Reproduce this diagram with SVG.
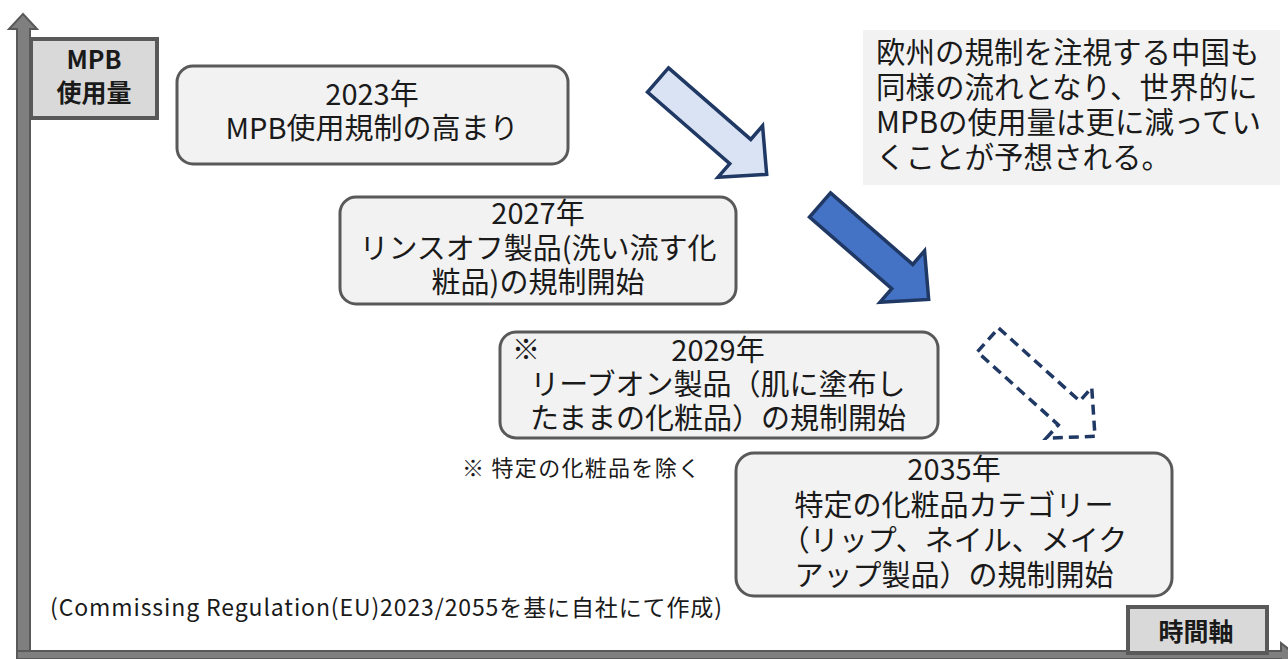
<svg xmlns="http://www.w3.org/2000/svg" width="1288" height="659" viewBox="0 0 1288 659">
<style>
text{font-family:"Noto Sans CJK JP","Noto Sans",sans-serif;fill:#1a1a1a}
text.src{font-size:23px}
.box{fill:#f2f2f2;stroke:#595959;stroke-width:3}
.lbl{fill:#d9d9d9;stroke:#595959;stroke-width:4}
.t28{font-size:29px;text-anchor:middle}
.bold{font-weight:bold;font-size:25px;text-anchor:middle}
.axis{fill:#7f7f7f;stroke:#595959;stroke-width:2}
.arr{stroke:#203864;stroke-width:3.5;stroke-linejoin:miter}
</style>
<defs>
<polygon id="arrowshape" points="0,-16 109,-16 109,-34 144,0 109,34 109,16 0,16"/>
</defs>
<rect width="1288" height="659" fill="#ffffff"/>
<g id="axes">
<polygon class="axis" points="17,655 17,29 9,29 23,14 37,29 30,29 30,655"/>
<polygon class="axis" points="17,651 1281,651 1281,643 1296,655 1281,667 1281,659 17,659"/>
</g>
<g id="label-y">
<rect class="lbl" x="31" y="39" width="126" height="79"/>
<text class="bold" x="94" y="69">MPB</text>
<text class="bold" x="94" y="102">使用量</text>
</g>
<g id="label-x">
<rect class="lbl" x="1128" y="607" width="139" height="46"/>
<text class="bold" x="1196" y="641">時間軸</text>
</g>
<g id="connectors">
<use href="#arrowshape" class="arr" fill="#dae3f3" transform="translate(658,80) rotate(41)"/>
<use href="#arrowshape" class="arr" fill="#4472c4" transform="translate(820,205) rotate(41)"/>
<use href="#arrowshape" class="arr" fill="#ffffff" stroke-dasharray="10,6" transform="translate(988,340) rotate(42)"/>
</g>
<g id="node-2023">
<rect class="box" x="177" y="66" width="391" height="98" rx="16"/>
<text class="t28" x="372" y="105">2023年</text>
<text class="t28" x="372" y="139">MPB使用規制の高まり</text>
</g>
<g id="node-2027">
<rect class="box" x="340" y="197" width="396" height="107" rx="16"/>
<text class="t28" x="538" y="224">2027年</text>
<text class="t28" x="538" y="259">リンスオフ製品(洗い流す化</text>
<text class="t28" x="538" y="293">粧品)の規制開始</text>
</g>
<g id="node-2029">
<rect class="box" x="500" y="332" width="438" height="106" rx="16"/>
<text x="512" y="360" font-size="28">※</text>
<text class="t28" x="718" y="361">2029年</text>
<text class="t28" x="718" y="395">リーブオン製品（肌に塗布し</text>
<text class="t28" x="718" y="429">たままの化粧品）の規制開始</text>
</g>
<g id="note-exclusion">
<text x="462" y="476" font-size="22" textLength="238" lengthAdjust="spacing">※ 特定の化粧品を除く</text>
</g>
<g id="node-2035">
<rect class="box" x="736" y="453" width="436" height="143" rx="18"/>
<text class="t28" x="954" y="480">2035年</text>
<text class="t28" x="954" y="516">特定の化粧品カテゴリー</text>
<text class="t28" x="954" y="551">（リップ、ネイル、メイク</text>
<text class="t28" x="954" y="586">アップ製品）の規制開始</text>
</g>
<g id="note-china">
<rect x="863" y="30" width="417" height="155" fill="#f2f2f2"/>
<text x="876" y="63" font-size="29.5">欧州の規制を注視する中国も</text>
<text x="876" y="98" font-size="29.5">同様の流れとなり、世界的に</text>
<text x="876" y="133" font-size="29.5">MPBの使用量は更に減ってい</text>
<text x="876" y="168" font-size="29.5">くことが予想される。</text>
</g>
<g id="source">
<text class="src" x="50" y="616" textLength="672" lengthAdjust="spacing">(Commissing Regulation(EU)2023/2055を基に自社にて作成)</text>
</g>
</svg>
